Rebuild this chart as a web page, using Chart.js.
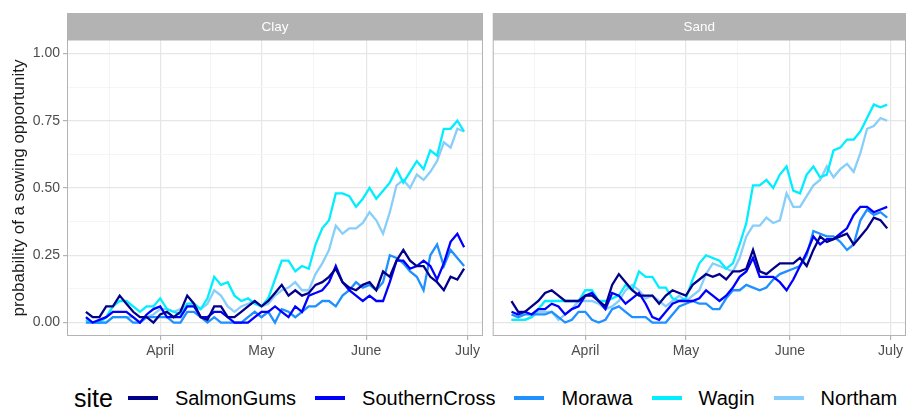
<!DOCTYPE html>
<html>
<head>
<meta charset="utf-8">
<script src="https://cdn.jsdelivr.net/npm/chart.js@4/dist/chart.umd.min.js"></script>
<style>
  html, body { margin: 0; padding: 0; background: #ffffff; }
  body { width: 907px; height: 410px; position: relative; overflow: hidden;
         font-family: "Liberation Sans", Arial, sans-serif; }
  canvas { position: absolute; top: 0; }
  #clay { left: 0; }
  #sand { left: 487px; }
  #legend { position: absolute; left: 74px; top: 383px; height: 30px;
            display: flex; align-items: center; white-space: nowrap; color: #000; }
  #legend .title { font-size: 25px; margin-right: 15px; }
  #legend .key { width: 30px; height: 3.5px; margin-right: 17px; }
  #legend .lab { font-size: 20px; margin-right: 19px; }
</style>
</head>
<body>
<canvas id="clay" width="487" height="365"></canvas>
<canvas id="sand" width="420" height="365"></canvas>
<div id="legend"></div>
<script>
// Day of year for each observation (10 March to 30 June, every second day)
const dayOfYear = [69,71,73,75,77,79,81,83,85,87,89,91,93,95,97,99,101,103,105,107,
  109,111,113,115,117,119,121,123,125,127,129,131,133,135,137,139,141,143,145,147,
  149,151,153,155,157,159,161,163,165,167,169,171,173,175,177,179,181];

const sites = ["SalmonGums", "SouthernCross", "Morawa", "Wagin", "Northam"];
const siteColours = ["#00008b", "#0000ff", "#1e90ff", "#00eeff", "#87cefa"];
const soils = ["Clay", "Sand"];

// Probability of a sowing opportunity, clay soils
const claySalmonGums = [0.04,0.02,0.02,0.06,0.06,0.10,0.07,0.04,0.02,0.02,0.00,0.03,0.04,0.02,0.04,0.10,0.07,0.02,0.01,0.06,
  0.06,0.02,0.02,0.04,0.06,0.08,0.06,0.08,0.11,0.14,0.10,0.12,0.10,0.11,0.14,0.15,0.17,0.20,0.15,0.13,
  0.12,0.14,0.15,0.12,0.19,0.17,0.23,0.27,0.23,0.21,0.21,0.17,0.15,0.12,0.17,0.16,0.20];
const claySouthernCross = [0.02,0.00,0.01,0.02,0.04,0.04,0.04,0.02,0.00,0.03,0.05,0.06,0.02,0.02,0.02,0.06,0.06,0.02,0.02,0.04,
  0.04,0.02,0.00,0.00,0.00,0.02,0.04,0.04,0.06,0.04,0.02,0.06,0.04,0.10,0.11,0.12,0.15,0.21,0.15,0.12,
  0.10,0.08,0.10,0.08,0.08,0.15,0.23,0.23,0.20,0.21,0.23,0.21,0.16,0.22,0.30,0.33,0.28];
const clayMorawa = [0.00,0.00,0.00,0.00,0.02,0.02,0.02,0.00,0.00,0.02,0.02,0.02,0.02,0.00,0.00,0.04,0.04,0.02,0.00,0.02,
  0.00,0.00,0.00,0.00,0.02,0.04,0.02,0.04,0.00,0.05,0.04,0.02,0.04,0.06,0.06,0.08,0.08,0.06,0.10,0.12,
  0.15,0.13,0.14,0.12,0.15,0.25,0.24,0.22,0.19,0.17,0.12,0.25,0.29,0.21,0.27,0.24,0.21];
const clayWagin = [0.01,0.00,0.00,0.02,0.06,0.08,0.08,0.06,0.04,0.06,0.06,0.09,0.05,0.04,0.03,0.07,0.07,0.05,0.09,0.17,
  0.14,0.15,0.10,0.08,0.09,0.07,0.06,0.09,0.16,0.23,0.23,0.19,0.21,0.20,0.29,0.35,0.38,0.48,0.48,0.47,
  0.43,0.46,0.50,0.46,0.49,0.52,0.57,0.52,0.56,0.60,0.57,0.64,0.62,0.72,0.72,0.75,0.71];
const clayNortham = [0.01,0.00,0.00,0.00,0.02,0.02,0.02,0.02,0.00,0.02,0.03,0.05,0.05,0.04,0.05,0.06,0.06,0.05,0.07,0.12,
  0.10,0.06,0.04,0.06,0.07,0.08,0.06,0.07,0.10,0.12,0.13,0.15,0.12,0.12,0.18,0.22,0.27,0.36,0.33,0.35,
  0.35,0.37,0.41,0.38,0.33,0.41,0.51,0.53,0.50,0.55,0.53,0.56,0.60,0.67,0.65,0.72,0.71];

// Probability of a sowing opportunity, sandy soils
const sandSalmonGums = [0.08,0.04,0.04,0.06,0.08,0.11,0.12,0.10,0.08,0.08,0.08,0.10,0.10,0.08,0.06,0.14,0.18,0.15,0.12,0.10,
  0.10,0.10,0.07,0.10,0.12,0.11,0.10,0.14,0.16,0.18,0.17,0.18,0.16,0.19,0.19,0.20,0.27,0.19,0.18,0.20,
  0.22,0.22,0.22,0.24,0.21,0.27,0.32,0.30,0.31,0.32,0.33,0.29,0.32,0.35,0.39,0.38,0.35];
const sandSouthernCross = [0.04,0.03,0.04,0.03,0.05,0.05,0.07,0.06,0.03,0.05,0.06,0.10,0.11,0.08,0.05,0.11,0.10,0.07,0.09,0.11,
  0.07,0.02,0.01,0.04,0.07,0.08,0.08,0.08,0.09,0.12,0.10,0.08,0.10,0.13,0.17,0.19,0.24,0.17,0.17,0.17,
  0.15,0.12,0.16,0.21,0.26,0.32,0.29,0.31,0.31,0.33,0.35,0.40,0.43,0.43,0.41,0.42,0.43];
const sandMorawa = [0.03,0.02,0.03,0.03,0.03,0.03,0.04,0.02,0.00,0.01,0.04,0.04,0.01,0.00,0.01,0.05,0.06,0.04,0.02,0.02,
  0.02,0.00,0.00,0.00,0.03,0.06,0.07,0.08,0.07,0.07,0.05,0.05,0.09,0.12,0.12,0.14,0.13,0.12,0.13,0.16,
  0.18,0.19,0.20,0.21,0.25,0.34,0.33,0.32,0.32,0.30,0.27,0.29,0.38,0.42,0.40,0.41,0.39];
const sandWagin = [0.01,0.01,0.01,0.02,0.05,0.08,0.08,0.08,0.08,0.08,0.08,0.12,0.12,0.08,0.08,0.09,0.10,0.14,0.12,0.19,
  0.17,0.17,0.13,0.13,0.09,0.08,0.09,0.16,0.22,0.25,0.24,0.23,0.20,0.22,0.29,0.37,0.51,0.51,0.53,0.50,
  0.55,0.58,0.49,0.48,0.55,0.58,0.54,0.55,0.64,0.65,0.68,0.68,0.71,0.76,0.81,0.80,0.81];
const sandNortham = [0.01,0.01,0.01,0.02,0.04,0.04,0.04,0.01,0.03,0.05,0.08,0.08,0.08,0.07,0.05,0.06,0.08,0.12,0.14,0.12,
  0.09,0.10,0.08,0.06,0.08,0.10,0.08,0.10,0.12,0.18,0.22,0.21,0.20,0.19,0.24,0.32,0.36,0.36,0.39,0.37,
  0.38,0.48,0.43,0.43,0.47,0.51,0.53,0.58,0.54,0.57,0.59,0.56,0.63,0.72,0.73,0.76,0.75];

// Axis breaks: month starts (labelled) and mid-month minor lines
const monthBreaks = [91, 121, 152, 182];
const monthLabels = ["April", "May", "June", "July"];
const minorDayBreaks = [76, 106, 136.5, 167];
const yBreaks = [0, 0.25, 0.5, 0.75, 1];
const yMinorBreaks = [0.125, 0.375, 0.625, 0.875];

const clayValues = [claySalmonGums, claySouthernCross, clayMorawa, clayWagin, clayNortham];
const sandValues = [sandSalmonGums, sandSouthernCross, sandMorawa, sandWagin, sandNortham];

const FONT = '"Liberation Sans", Arial, sans-serif';
const X_MIN = 63.4, X_MAX = 186.6;
const Y_MIN = -0.05, Y_MAX = 1.05;

function isMajor(list, v) { return list.some(b => Math.abs(b - v) < 1e-6); }

// Grey facet strip above each panel plus the panel border
const facetPanel = {
  id: 'facetPanel',
  afterDatasetsDraw(chart, args, opts) {
    const a = chart.chartArea, ctx = chart.ctx;
    ctx.save();
    ctx.strokeStyle = '#b3b3b3';
    ctx.lineWidth = 1;
    ctx.strokeRect(a.left + 0.5, a.top, a.right - a.left - 1, a.bottom - a.top - 0.5);
    ctx.fillStyle = '#b3b3b3';
    ctx.fillRect(a.left, 13, a.right - a.left, a.top - 13);
    ctx.fillStyle = '#ffffff';
    ctx.font = '13.5px ' + FONT;
    ctx.textAlign = 'center';
    ctx.textBaseline = 'middle';
    ctx.fillText(opts.text, (a.left + a.right) / 2, (13 + a.top) / 2 + 0.5);
    ctx.restore();
  }
};

function makeDatasets(values) {
  return sites.map((s, i) => ({
    label: s,
    data: dayOfYear.map((d, j) => ({ x: d, y: values[i][j] })),
    borderColor: siteColours[i],
    backgroundColor: siteColours[i],
    borderWidth: 2.3,
    pointRadius: 0,
    tension: 0,
    fill: false
  }));
}

function makeChart(canvasId, soil, values, withYAxis) {
  return new Chart(document.getElementById(canvasId), {
    type: 'line',
    data: { datasets: makeDatasets(values) },
    plugins: [facetPanel],
    options: {
      responsive: false,
      animation: false,
      devicePixelRatio: 1,
      layout: { padding: { top: 40, right: withYAxis ? 4 : 1, left: 0, bottom: 0 } },
      plugins: {
        legend: { display: false },
        tooltip: { enabled: false },
        facetPanel: { text: soil }
      },
      scales: {
        x: {
          type: 'linear',
          min: X_MIN, max: X_MAX,
          afterBuildTicks(scale) {
            scale.ticks = minorDayBreaks.concat(monthBreaks).sort((a, b) => a - b).map(v => ({ value: v }));
          },
          afterFit(scale) { scale.height = 29; },
          ticks: {
            autoSkip: false, maxRotation: 0, padding: 3,
            color: '#4d4d4d', font: { family: FONT, size: 14 },
            callback(v) { const i = monthBreaks.indexOf(v); return i >= 0 ? monthLabels[i] : ''; }
          },
          grid: {
            color: c => isMajor(monthBreaks, c.tick.value) ? '#e6e6e6' : '#f2f2f2',
            lineWidth: c => isMajor(monthBreaks, c.tick.value) ? 1.2 : 0.8,
            tickColor: c => isMajor(monthBreaks, c.tick.value) ? '#b3b3b3' : 'rgba(0,0,0,0)',
            tickLength: 4, drawTicks: true
          },
          border: { display: false }
        },
        y: {
          type: 'linear',
          min: Y_MIN, max: Y_MAX,
          afterBuildTicks(scale) {
            scale.ticks = yBreaks.concat(yMinorBreaks).sort((a, b) => a - b).map(v => ({ value: v }));
          },
          afterFit(scale) { scale.width = withYAxis ? 67 : 5.7; },
          ticks: {
            display: withYAxis, padding: 3,
            color: '#4d4d4d', font: { family: FONT, size: 14 },
            callback(v) { return isMajor(yBreaks, v) ? v.toFixed(2) : ''; }
          },
          title: {
            display: withYAxis, text: 'probability of a sowing opportunity',
            color: '#1a1a1a', font: { family: FONT, size: 17 }, padding: { top: 9, bottom: 0 }
          },
          grid: {
            color: c => isMajor(yBreaks, c.tick.value) ? '#e6e6e6' : '#f2f2f2',
            lineWidth: c => isMajor(yBreaks, c.tick.value) ? 1.2 : 0.8,
            tickColor: c => isMajor(yBreaks, c.tick.value) ? '#b3b3b3' : 'rgba(0,0,0,0)',
            tickLength: 4, drawTicks: withYAxis
          },
          border: { display: false }
        }
      }
    }
  });
}

makeChart('clay', soils[0], clayValues, true);
makeChart('sand', soils[1], sandValues, false);

// Legend for the site colours
const legend = document.getElementById('legend');
const title = document.createElement('span');
title.className = 'title';
title.textContent = 'site';
legend.appendChild(title);
sites.forEach((s, i) => {
  const key = document.createElement('span');
  key.className = 'key';
  key.style.background = siteColours[i];
  const lab = document.createElement('span');
  lab.className = 'lab';
  lab.textContent = s;
  legend.appendChild(key);
  legend.appendChild(lab);
});
</script>
</body>
</html>
